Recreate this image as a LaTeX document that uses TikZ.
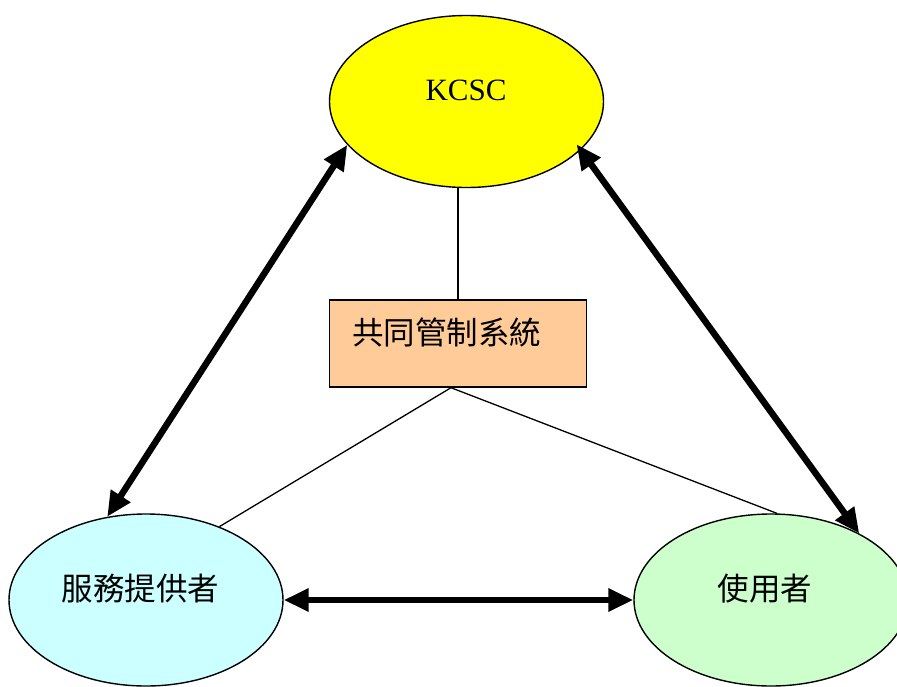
\documentclass[tikz,border=0pt]{standalone}
\usepackage{fontspec}
\setmainfont{Liberation Serif}
\newfontfamily\cjk{Noto Sans CJK TC}
\usetikzlibrary{shapes.geometric,arrows.meta}
\definecolor{kyellow}{HTML}{FFFF00}
\definecolor{kpeach}{HTML}{FFCC99}
\definecolor{kcyan}{HTML}{CCFFFF}
\definecolor{kgreen}{HTML}{CCFFCC}
\begin{document}
\begin{tikzpicture}[x=1pt,y=-1pt,
  oval/.style={ellipse, draw, line width=1.4pt, minimum width=274pt, minimum height=172pt, inner sep=0pt},
  bigarrow/.style={line width=6.5pt, {Triangle[length=25pt,width=22pt]}-{Triangle[length=25pt,width=22pt]}},
  thinlink/.style={line width=1.3pt},
  cjktext/.style={font=\cjk\fontsize{31.5}{36}\selectfont, inner sep=0pt},
  boxstyle/.style={draw, line width=1.4pt, fill=kpeach, minimum width=257pt, minimum height=87pt, inner sep=0pt}]
\useasboundingbox (0,0) rectangle (897,686);
% shapes
\node[oval, fill=kyellow] (kcsc) at (466.5,101.5) {};
\node[boxstyle] (box) at (458,343.5) {};
\node[oval, fill=kcyan] (prov) at (146,600) {};
\node[oval, fill=kgreen] (user) at (771,600) {};
% texts
\node[font=\fontsize{31}{36}\selectfont, inner sep=0pt] (kcsct) at (466,90) {KCSC};
\node[cjktext] (boxt) at (446.5,332) {共同管制系統};
\node[cjktext] (provt) at (140.5,589) {服務提供者};
\node[cjktext] (usert) at (765,589) {使用者};
% thin links
\coordinate (bj) at ([xshift=-7pt]box.south);
\draw[thinlink] (box.north) -- (box.north |- kcsc.south);
\draw[thinlink] (bj) -- (prov.45);
\draw[thinlink] (bj) -- (user.86);
% thick arrows
\draw[bigarrow] (prov.115) -- (kcsc.200);
\draw[bigarrow, shorten <=-7pt] (kcsc.337) -- (user.37);
\draw[bigarrow] (prov.east) -- (user.west);
\end{tikzpicture}
\end{document}
